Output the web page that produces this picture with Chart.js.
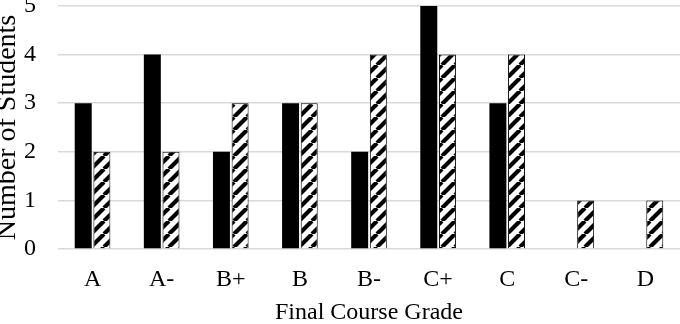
<!DOCTYPE html>
<html>
<head>
<meta charset="utf-8">
<script src="https://cdn.jsdelivr.net/npm/chart.js@4/dist/chart.umd.min.js"></script>
<style>
  html, body { margin: 0; padding: 0; background: #fff; }
</style>
</head>
<body>
<canvas id="chart" width="680" height="324"></canvas>
<script>
// Datos del gráfico
const grades = ['A', 'A-', 'B+', 'B', 'B-', 'C+', 'C', 'C-', 'D'];
const solidSeries = [3, 4, 2, 3, 2, 5, 3, 0, 0];
const hatchedSeries = [2, 2, 3, 3, 4, 4, 4, 1, 1];
const yTicks = [0, 1, 2, 3, 4, 5];

// Patrón de rayas diagonales para la segunda serie
function makeHatch() {
  const size = 13;
  const c = document.createElement('canvas');
  c.width = size;
  c.height = size;
  const ctx = c.getContext('2d');
  ctx.fillStyle = '#fff';
  ctx.fillRect(0, 0, size, size);
  ctx.strokeStyle = '#000';
  ctx.lineWidth = 4.2;
  ctx.beginPath();
  for (let k = -1; k <= 1; k++) {
    ctx.moveTo(k * size, size);
    ctx.lineTo(k * size + size, 0);
  }
  ctx.stroke();
  return ctx.createPattern(c, 'repeat');
}

const serif = '"Liberation Serif", "Times New Roman", serif';
const tickFont = { family: serif, size: 24 };

// Quita el relleno automático y fija el tamaño de cada eje
const fixSize = (size) => (scale) => {
  scale.paddingTop = 0;
  scale.paddingBottom = 0;
  scale.paddingLeft = 0;
  scale.paddingRight = 0;
  if (scale.isHorizontal()) scale.height = size;
  else scale.width = size;
};

new Chart(document.getElementById('chart'), {
  type: 'bar',
  data: {
    labels: grades,
    datasets: [
      {
        label: 'Series 1',
        data: solidSeries,
        backgroundColor: '#000',
        borderColor: '#000',
        borderWidth: 0,
        categoryPercentage: 0.54,
        barPercentage: 0.91
      },
      {
        label: 'Series 2',
        data: hatchedSeries,
        backgroundColor: makeHatch(),
        borderColor: '#000',
        borderWidth: 1,
        categoryPercentage: 0.54,
        barPercentage: 0.91
      }
    ]
  },
  options: {
    responsive: false,
    animation: false,
    layout: { padding: { top: 6, left: 0, right: 0, bottom: 0 } },
    plugins: { legend: { display: false }, tooltip: { enabled: false } },
    scales: {
      x: {
        afterFit: fixSize(75),
        grid: { display: false, drawTicks: false },
        border: { display: false },
        ticks: { color: '#000', font: tickFont, padding: 16, maxRotation: 0 },
        title: { display: true, text: 'Final Course Grade', color: '#000', font: tickFont, padding: { top: 0, bottom: -3 } }
      },
      y: {
        min: 0,
        max: 5,
        afterBuildTicks: (axis) => { axis.ticks = yTicks.map(v => ({ value: v })); },
        afterFit: fixSize(58),
        grid: { color: '#d9d9d9', lineWidth: 1.5, drawTicks: false },
        border: { display: false },
        ticks: { color: '#000', font: tickFont, padding: 22 },
        title: { display: true, text: 'Number of Students', color: '#000', font: { family: serif, size: 28, lineHeight: 0.55 }, padding: { top: 0, bottom: 0 } }
      }
    }
  }
});
</script>
</body>
</html>
